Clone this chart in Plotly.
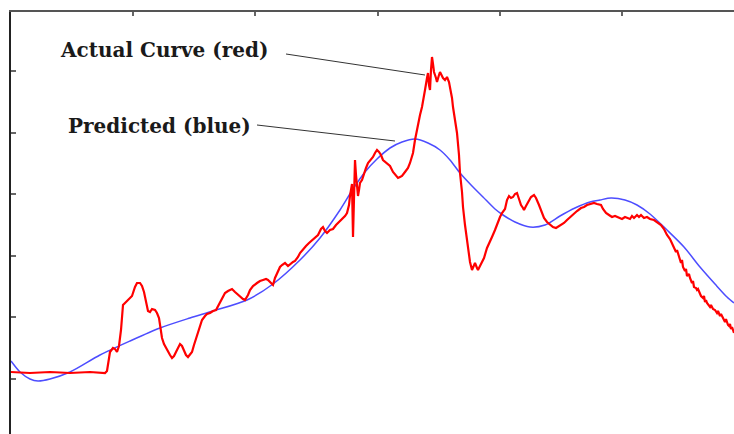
import plotly.graph_objects as go

# Measured (actual) response: sample position and value
actual_x = [0, 19, 39, 59, 79, 94, 96, 99, 102, 104, 106, 108, 110, 112, 114, 116, 119, 121, 124, 126,
            129, 131, 133, 135, 137, 139, 141, 144, 146, 148, 149, 151, 153, 155, 157, 159, 161, 163, 165, 167,
            169, 171, 173, 175, 177, 179, 181, 183, 186, 189, 191, 194, 196, 199, 202, 205, 207, 209, 212, 214,
            217, 219, 221, 224, 227, 229, 232, 234, 237, 239, 242, 246, 249, 252, 255, 257, 260, 262, 264, 266,
            269, 271, 274, 277, 279, 282, 284, 287, 289, 292, 295, 298, 301, 304, 307, 310, 312, 314, 316, 319,
            322, 325, 329, 332, 334, 336, 337, 338, 339, 340, 341, 342, 343, 344, 345, 346, 347, 348, 349, 351,
            353, 355, 357, 359, 362, 364, 366, 368, 370, 372, 374, 377, 379, 382, 385, 387, 389, 391, 394, 397,
            399, 402, 404, 407, 409, 411, 413, 414, 416, 417, 418, 419, 420, 421, 422, 423, 425, 426, 428, 429,
            431, 432, 434, 436, 438, 439, 441, 442, 444, 446, 448, 449, 451, 452, 454, 456, 457, 459, 461, 463,
            464, 466, 467, 469, 471, 473, 476, 478, 481, 484, 486, 489, 491, 494, 496, 498, 500, 502, 504, 506,
            508, 510, 512, 513, 515, 518, 520, 523, 525, 528, 531, 533, 536, 540, 542, 545, 548, 550, 553, 556,
            559, 563, 566, 570, 573, 576, 579, 583, 586, 590, 592, 595, 598, 601, 604, 608, 611, 614, 616, 619,
            621, 623, 626, 628, 630, 633, 636, 639, 643, 646, 650, 653, 656, 659, 663, 665, 666, 668, 670, 671,
            672, 674, 675, 676, 678, 679, 680, 681, 682, 683, 685, 686, 687, 689, 690, 692, 693, 694, 695, 696,
            698, 699, 700, 702, 704, 706, 707, 709, 710, 712, 713, 714, 715, 716, 717, 718, 719, 720, 721, 723]
actual_y = [62, 61, 62, 61, 62, 61, 63, 82, 86, 85, 82, 88, 104, 129, 131, 133, 136, 138, 147, 151,
            151, 148, 142, 132, 123, 122, 125, 124, 121, 116, 109, 96, 90, 86, 83, 79, 76, 78, 82, 86,
            90, 88, 84, 79, 77, 79, 82, 89, 99, 109, 114, 118, 120, 121, 123, 124, 128, 131, 137, 141,
            143, 144, 145, 142, 139, 137, 135, 134, 139, 144, 148, 151, 153, 154, 155, 154, 151, 149, 156, 161,
            167, 169, 171, 168, 170, 172, 173, 177, 181, 185, 188, 191, 194, 197, 199, 205, 207, 203, 201, 204,
            205, 209, 213, 215, 218, 221, 224, 229, 238, 244, 250, 197, 234, 274, 259, 246, 238, 244, 251, 254,
            261, 266, 271, 273, 277, 281, 284, 282, 279, 274, 272, 270, 268, 262, 258, 256, 257, 258, 262, 266,
            271, 281, 294, 310, 319, 327, 337, 344, 356, 361, 349, 344, 364, 377, 370, 362, 356, 352, 359, 362,
            358, 356, 354, 357, 352, 347, 336, 327, 314, 301, 279, 261, 242, 227, 209, 194, 186, 172, 164, 168,
            171, 166, 164, 168, 172, 176, 186, 190, 197, 204, 210, 217, 221, 225, 234, 238, 236, 237, 240, 241,
            235, 229, 226, 224, 228, 234, 237, 239, 236, 229, 222, 216, 212, 209, 207, 206, 208, 209, 211, 214,
            217, 221, 223, 226, 227, 229, 230, 231, 230, 229, 225, 221, 219, 217, 218, 216, 215, 217, 216, 215,
            218, 216, 219, 217, 219, 216, 217, 215, 214, 212, 209, 205, 199, 195, 187, 182, 184, 178, 171, 174,
            167, 163, 165, 158, 160, 156, 153, 151, 153, 147, 146, 144, 145, 141, 138, 136, 138, 132, 134, 131,
            129, 127, 129, 125, 124, 121, 123, 118, 120, 116, 114, 112, 115, 111, 109, 108, 110, 105, 107, 101]

# Model (predicted) response
predicted_x = [0, 9, 19, 27, 39, 59, 89, 119, 149, 179, 202, 236, 262, 289, 309, 329, 342, 354, 366, 379,
               391, 404, 417, 429, 439, 449, 461, 472, 484, 492, 504, 519, 534, 549, 564, 579, 589, 600, 614, 626,
               639, 656, 673, 689, 704, 716, 723]
predicted_y = [73, 62, 55, 53, 55, 62, 79, 93, 106, 116, 123, 134, 150, 174, 196, 224, 245, 262, 275, 286,
               292, 295, 291, 284, 274, 261, 248, 237, 225, 219, 212, 207, 209, 218, 226, 232, 234, 236, 234, 229,
               220, 204, 187, 167, 150, 137, 131]

# Callout labels: (text, label anchor x, y, leader start / end)
label_text = ["Actual Curve (red)", "Predicted (blue)"]
label_x = [47, 55]
label_y = [384, 308]
leader_start_x = [275, 246]
leader_start_y = [380, 309]
leader_end_x = [414, 384]
leader_end_y = [359, 293]

fig = go.Figure()
fig.add_trace(go.Scatter(x=predicted_x, y=predicted_y, mode="lines",
                         line=dict(color="#4d4dff", width=1.5, shape="spline", smoothing=0.8),
                         hoverinfo="skip"))
fig.add_trace(go.Scatter(x=actual_x, y=actual_y, mode="lines",
                         line=dict(color="#ff0000", width=2.2),
                         hoverinfo="skip"))

for i, txt in enumerate(label_text):
    fig.add_annotation(x=label_x[i], y=label_y[i], text="<b>%s</b>" % txt, showarrow=False,
                       xanchor="left", yanchor="middle",
                       font=dict(family="DejaVu Serif", size=20, color="#1a1a1a"))
    fig.add_shape(type="line", x0=leader_start_x[i], y0=leader_start_y[i],
                  x1=leader_end_x[i], y1=leader_end_y[i],
                  line=dict(color="#333333", width=1))

fig.update_layout(
    width=734, height=434,
    margin=dict(l=11, r=0, t=12, b=0),
    paper_bgcolor="white", plot_bgcolor="white",
    showlegend=False,
    xaxis=dict(range=[0, 723], side="top", showgrid=False, zeroline=False,
               showline=True, linecolor="#555555", linewidth=2,
               ticks="inside", ticklen=4, tickwidth=2, tickcolor="#666666",
               tick0=0, dtick=122.2, showticklabels=False, fixedrange=True),
    yaxis=dict(range=[0, 422], showgrid=False, zeroline=False,
               showline=True, linecolor="#222222", linewidth=2,
               ticks="inside", ticklen=5, tickwidth=2, tickcolor="#666666",
               tick0=55, dtick=61.6, showticklabels=False, fixedrange=True),
)

fig.write_html("out.html")
